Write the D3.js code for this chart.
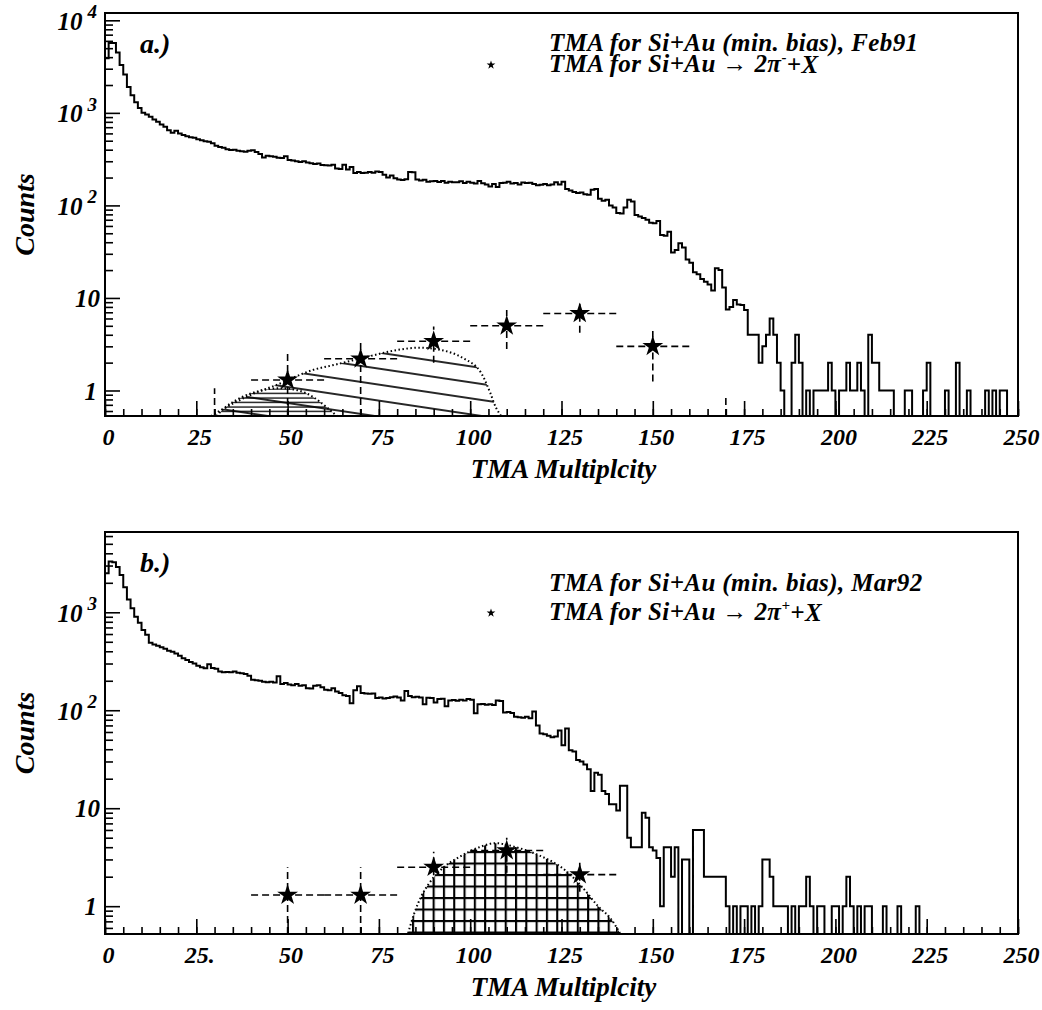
<!DOCTYPE html>
<html>
<head>
<meta charset="utf-8">
<script src="https://cdn.jsdelivr.net/npm/d3@7"></script>
<style>
  body { margin: 0; background: #fff; }
</style>
</head>
<body>
<div id="wrapper"></div>
<script>
// histogram contents, one value per unit bin (0..249)
const histA = [
  3900, 5700, 5700, 4500, 3300, 2600, 1900, 1550, 1300, 1130,
  1000, 960, 906, 850, 800, 750, 706, 650, 610, 640,
  600, 578, 560, 545, 537, 520, 505, 495, 486, 470,
  440, 428, 420, 405, 398, 400, 390, 385, 380, 390,
  395, 378, 360, 330, 345, 340, 335, 328, 326, 340,
  310, 305, 300, 295, 300, 290, 285, 280, 283, 274,
  272, 270, 275, 250, 248, 275, 245, 260, 224, 230,
  224, 226, 230, 226, 232, 230, 215, 200, 210, 196,
  190, 188, 192, 230, 228, 190, 186, 189, 180, 182,
  184, 179, 183, 176, 180, 178, 178, 182, 175, 180,
  176, 172, 184, 174, 168, 160, 170, 158, 175, 176,
  180, 172, 175, 168, 177, 175, 176, 170, 165, 167,
  170, 165, 168, 178, 168, 180, 150, 145, 140, 136,
  138, 132, 130, 148, 150, 118, 112, 115, 100, 95,
  83, 82, 95, 115, 110, 79, 76, 73, 70, 65,
  64, 68, 48, 47, 52, 31, 33, 39, 35, 26,
  24, 19, 18, 16, 15, 14, 12, 21, 20, 13,
  7.5, 8, 9.5, 8.5, 8.4, 7.4, 4, 4, 4, 2,
  3, 4, 6, 4, 2, 1, 0, 0, 2, 4,
  2, 0, 1, 0, 1, 1, 1, 1, 2, 1,
  0, 1, 1, 2, 1, 1, 2, 1, 0, 4,
  2, 2, 1, 1, 1, 1, 0, 0, 0, 1,
  1, 0, 0, 0, 1, 2, 0, 0, 0, 0,
  1, 0, 0, 2, 0, 0, 1, 0, 0, 0,
  0, 1, 0, 1, 0, 1, 1, 0, 0, 0
]
const histB = [
  2500, 3300, 3250, 2900, 2400, 1800, 1350, 1100, 900, 780,
  660, 590, 490, 470, 455, 440, 425, 405, 395, 380,
  360, 340, 325, 310, 300, 285, 275, 268, 295, 270,
  265, 248, 245, 246, 244, 248, 242, 238, 235, 225,
  205, 203, 200, 195, 193, 195, 192, 222, 185, 190,
  183, 180, 185, 178, 180, 168, 167, 178, 180, 172,
  162, 160, 168, 155, 150, 142, 140, 118, 160, 176,
  150, 148, 147, 148, 133, 135, 132, 133, 136, 138,
  135, 126, 157, 140, 136, 137, 135, 115, 134, 133,
  120, 130, 131, 110, 126, 127, 125, 128, 126, 130,
  128, 93, 115, 116, 114, 115, 113, 126, 124, 95,
  96, 94, 86, 85, 84, 86, 83, 97, 70, 58,
  57, 55, 53, 54, 62, 44, 65, 39, 38, 31,
  30, 28, 25, 15, 23, 22, 15, 14, 11, 11,
  9.5, 17, 17, 5, 4, 4, 4, 9, 8, 4,
  3.7, 3.1, 1, 4, 4, 2, 4, 0, 3, 3,
  0, 6, 6, 6, 2, 2, 2, 2, 2, 2,
  1, 0, 1, 0, 1, 1, 0, 1, 0, 1,
  3, 3, 2, 1, 1, 1, 1, 0, 1, 0,
  1, 1, 2, 1, 0, 1, 1, 0, 0, 1,
  1, 0, 1, 2, 1, 0, 1, 0, 1, 1,
  0, 0, 0, 1, 0, 0, 0, 1, 0, 0,
  0, 0, 1, 0, 0, 0, 0, 0, 0, 0,
  0, 0, 0, 0, 0, 0, 0, 0, 0, 0,
  0, 0, 0, 0, 0, 0, 0, 0, 0, 0
]

// 2-pion triggered points: [x, y, yLow, yHigh], x error is +-10
// (the ones at 30 and 170 sit below the axis, only their error bars poke up)
const starsA = [[30, 0.3, 0.1, 1.06], [50, 1.3, 0.4, 2.5], [70, 2.2, 0.4, 3.25], [90, 3.4, 2.0, 4.9],
  [110, 5.0, 2.8, 7.4], [130, 6.8, 4.2, 9.5], [150, 3.0, 1.25, 4.4], [170, 0.3, 0.1, 0.83]]
const starsB = [[50, 1.3, 0.4, 2.5], [70, 1.3, 0.4, 2.5], [90, 2.5, 1.6, 3.6],
  [110, 3.7, 2.2, 5.0], [130, 2.1, 1.4, 3.0]]

// fitted shapes (dotted outlines) [x, y]
const fitBigA = [[29, 0.53], [35, 0.72], [40, 0.9], [47, 1.15], [57, 1.67], [63, 1.9], [72, 2.32],
  [80, 2.74], [86, 2.9], [92, 2.74], [98, 2.24], [103, 1.55], [105.5, 0.94], [107, 0.66], [108.5, 0.53]]
const fitSmallA = [[30.5, 0.53], [33, 0.66], [37, 0.83], [41.5, 0.97], [48, 1.06], [53, 1.0], [57, 0.85],
  [60.7, 0.66], [63.5, 0.53]]
const fitB = [[83, 0.53], [84.7, 0.85], [86.5, 1.24], [88.8, 1.72], [92.4, 2.44], [97, 3.17], [102.5, 4.0],
  [107, 4.4], [112.5, 4.0], [118.9, 3.3], [126, 2.33], [130.7, 1.56], [135, 1.0], [138.8, 0.72], [141, 0.53]]

const xTicksMajor = [0, 25, 50, 75, 100, 125, 150, 175, 200, 225, 250]
const xTickLabelsB = ["0", "25.", "50", "75", "100", "125", "150", "175", "200", "225", "250"]
const legendA = ["TMA for Si+Au (min. bias), Feb91", "-"]
const legendB = ["TMA for Si+Au (min. bias), Mar92", "+"]

const FONT = "Liberation Serif"
const width = 1042, height = 1010
const svg = d3.select("#wrapper").append("svg")
  .attr("width", width).attr("height", height)

const defs = svg.append("defs")
const diag = defs.append("pattern").attr("id", "diag").attr("patternUnits", "userSpaceOnUse")
  .attr("width", 12).attr("height", 16).attr("patternTransform", "skewY(8.5)")
diag.append("line").attr("x1", 0).attr("x2", 12).attr("y1", 8).attr("y2", 8)
  .attr("stroke", "#000").attr("stroke-width", 1.7)
const horiz = defs.append("pattern").attr("id", "horiz").attr("patternUnits", "userSpaceOnUse")
  .attr("width", 12).attr("height", 4.5)
horiz.append("line").attr("x1", 0).attr("x2", 12).attr("y1", 2).attr("y2", 2)
  .attr("stroke", "#000").attr("stroke-width", 1.3)
const grid = defs.append("pattern").attr("id", "grid").attr("patternUnits", "userSpaceOnUse")
  .attr("width", 10.3).attr("height", 11.5).attr("x", 0).attr("y", 0)
grid.append("line").attr("x1", 1).attr("x2", 1).attr("y1", 0).attr("y2", 11.5)
  .attr("stroke", "#000").attr("stroke-width", 2.2)
grid.append("line").attr("x1", 0).attr("x2", 10.3).attr("y1", 1).attr("y2", 1)
  .attr("stroke", "#000").attr("stroke-width", 2.2)

const panels = [
  { id: "a", top: 13, bottom: 416, yMax: 12000, yMin: 0.53, hist: histA, stars: starsA,
    label: "a.)", legend: legendA, xLabels: xTicksMajor.map(String), leg1: 51, leg2: 72 },
  { id: "b", top: 532, bottom: 934, yMax: 6600, yMin: 0.52, hist: histB, stars: starsB,
    label: "b.)", legend: legendB, xLabels: xTickLabelsB, leg1: 591, leg2: 620 }
]

const left = 105, right = 1018

function txt(sel, size) {
  return sel.attr("font-family", FONT).attr("font-style", "italic").attr("font-weight", "bold")
    .attr("font-size", size).attr("fill", "#000")
}

panels.forEach(p => {
  const x = d3.scaleLinear().domain([0, 250]).range([left, right])
  const y = d3.scaleLog().domain([p.yMin, p.yMax]).range([p.bottom, p.top]).clamp(true)
  const yv = v => y(Math.max(v, p.yMin))

  const g = svg.append("g")
  defs.append("clipPath").attr("id", "clip-" + p.id)
    .append("rect").attr("x", left).attr("y", p.top).attr("width", right - left).attr("height", p.bottom - p.top)
  const plot = g.append("g").attr("clip-path", `url(#clip-${p.id})`)

  // hatched fit areas
  const area = d3.area().x(d => x(d[0])).y0(p.bottom).y1(d => yv(d[1])).curve(d3.curveMonotoneX)
  const outline = d3.line().x(d => x(d[0])).y(d => yv(d[1])).curve(d3.curveMonotoneX)
  const fits = p.id === "a"
    ? [{ pts: fitSmallA, fill: "url(#horiz)" }, { pts: fitBigA, fill: "url(#diag)" }]
    : [{ pts: fitB, fill: "url(#grid)" }]
  fits.forEach(f => {
    plot.append("path").attr("d", area(f.pts)).attr("fill", f.fill)
    plot.append("path").attr("d", outline(f.pts)).attr("fill", "none")
      .attr("stroke", "#000").attr("stroke-width", 2).attr("stroke-dasharray", "1.5,2.5")
  })

  // histogram as steps
  const steps = [[0, 0]].concat(p.hist.map((v, i) => [i, v]), [[250, p.hist[249]]])
  const stepLine = d3.line().x(d => x(d[0])).y(d => yv(d[1])).curve(d3.curveStepAfter)
  plot.append("path").attr("d", stepLine(steps))
    .attr("fill", "none").attr("stroke", "#000").attr("stroke-width", 2)

  // error bars and stars
  const eb = plot.append("g").attr("stroke", "#000").attr("stroke-width", 1.6).attr("stroke-dasharray", "7,4")
  p.stars.forEach(s => {
    if (s[1] >= p.yMin) {
      eb.append("line").attr("x1", x(s[0] - 10)).attr("x2", x(s[0] + 10)).attr("y1", yv(s[1])).attr("y2", yv(s[1]))
    }
    eb.append("line").attr("x1", x(s[0])).attr("x2", x(s[0])).attr("y1", yv(s[2])).attr("y2", yv(s[3]))
  })
  plot.selectAll(".star").data(p.stars.filter(s => s[1] >= p.yMin)).join("path")
    .attr("d", d3.symbol(d3.symbolStar, 135))
    .attr("transform", d => `translate(${x(d[0])},${yv(d[1])})`)
    .attr("fill", "#000")

  // x axis
  const xMajor = d3.axisBottom(x).tickValues(xTicksMajor).tickSize(-15).tickPadding(12)
    .tickFormat((d, i) => p.xLabels[i])
  const xMinor = d3.axisBottom(x).tickValues(d3.range(0, 251, 5)).tickSize(-7).tickFormat("")
  const xa = g.append("g").attr("transform", `translate(0,${p.bottom})`).call(xMajor)
  g.append("g").attr("transform", `translate(0,${p.bottom})`).call(xMinor)
  g.selectAll(".domain").remove()
  xa.selectAll("text").call(txt, 24).attr("dx", 3)
  g.selectAll(".tick line").attr("stroke-width", 1.6)

  // y axis: decades with superscripts, minor ticks 2..9
  const decades = [1, 10, 100, 1000, 10000].filter(v => v <= p.yMax)
  const minors = []
  d3.range(-1, 5).forEach(e => d3.range(2, 10).forEach(m => {
    const v = m * Math.pow(10, e)
    if (v >= p.yMin && v <= p.yMax) minors.push(v)
  }))
  const yMajor = d3.axisLeft(y).tickValues(decades).tickSize(-15).tickPadding(8).tickFormat("")
  const yMinor = d3.axisLeft(y).tickValues(minors).tickSize(-8).tickFormat("")
  const ya = g.append("g").attr("transform", `translate(${left},0)`).call(yMajor)
  g.append("g").attr("transform", `translate(${left},0)`).call(yMinor)
  g.selectAll(".domain").remove()
  g.selectAll(".tick line").attr("stroke-width", 1.6)
  ya.selectAll(".tick").each(function (d) {
    const t = d3.select(this).select("text").call(txt, 25).attr("dy", "0.35em")
    if (d < 100) {
      t.attr("x", d === 1 ? -8 : -5).text(String(d))
    } else {
      t.attr("x", -8)
      t.append("tspan").text("10")
      t.append("tspan").attr("font-size", 19).attr("dx", 5).attr("dy", "-0.6em").text(Math.log10(d))
    }
  })

  // frame
  g.append("rect").attr("x", left).attr("y", p.top).attr("width", right - left).attr("height", p.bottom - p.top)
    .attr("fill", "none").attr("stroke", "#000").attr("stroke-width", 2)

  // labels
  g.append("text").attr("x", 140).attr("y", p.top + 40).call(txt, 28).text(p.label)
  g.append("text").attr("x", (left + right) / 2 + 2).attr("y", p.bottom + 62).attr("text-anchor", "middle")
    .call(txt, 27).text("TMA Multiplcity")
  g.append("text").attr("transform", `translate(34,${(p.top + p.bottom) / 2}) rotate(-90)`)
    .attr("text-anchor", "middle").call(txt, 28).text("Counts")

  // legend
  const lx = 549
  g.append("text").attr("x", lx).attr("y", p.leg1).call(txt, 25).attr("letter-spacing", 0.4).text(p.legend[0])
  const l2 = g.append("text").attr("x", lx).attr("y", p.leg2).call(txt, 25).attr("letter-spacing", 0.4)
  l2.append("tspan").text("TMA for Si+Au \u2192 2\u03c0")
  l2.append("tspan").attr("font-size", 15).attr("dy", "-0.65em").text(p.legend[1])
  l2.append("tspan").attr("dy", "0.42em").text("+X")
  g.append("path").attr("d", d3.symbol(d3.symbolStar, 24))
    .attr("transform", `translate(491,${p.leg2 - 7})`).attr("fill", "#000")
})
</script>
</body>
</html>
